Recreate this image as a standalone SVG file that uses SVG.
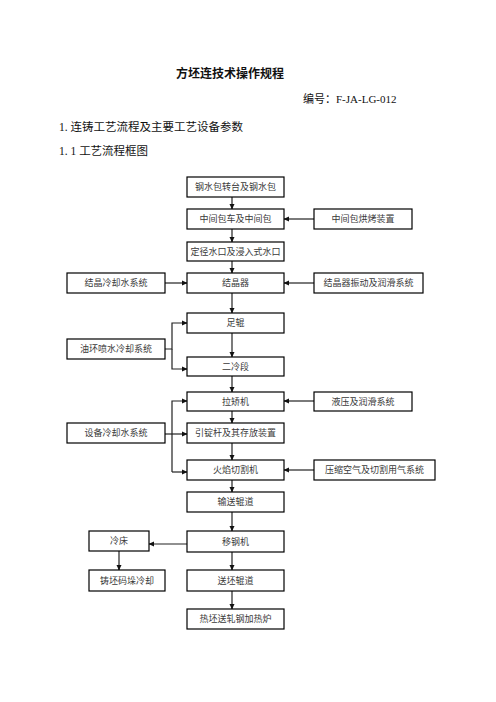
<svg xmlns="http://www.w3.org/2000/svg" width="496" height="702" viewBox="0 0 496 702">
<style>
.b{fill:#fff;stroke:#000;stroke-width:1.2}
.t{font-family:"Liberation Serif","Noto Sans CJK SC",serif;font-size:9px;fill:#3a3a3a;text-anchor:middle;dominant-baseline:central}
.h{font-family:"Liberation Serif","Noto Sans CJK SC",serif;fill:#111}
.c{fill:none;stroke:#222;stroke-width:1.2}
</style>
<defs>
<marker id="a" markerWidth="6" markerHeight="6" refX="5" refY="3" orient="auto" markerUnits="userSpaceOnUse">
<path d="M0,0.5 L5.5,3 L0,5.5 Z" fill="#111"/>
</marker>
</defs>
<rect width="496" height="702" fill="#fff"/>
<text class="h" x="230" y="78" font-size="12" font-weight="bold" text-anchor="middle">方坯连技术操作规程</text>
<text class="h" x="303" y="103" font-size="11">编号：F-JA-LG-012</text>
<text class="h" x="59" y="131" font-size="11.5" fill="#333">1. 连铸工艺流程及主要工艺设备参数</text>
<text class="h" x="59" y="155" font-size="11.5" fill="#333">1. 1 工艺流程框图</text>

<g id="connectors">
<path class="c" d="M232,197V209" marker-end="url(#a)"/>
<path class="c" d="M232,229V242" marker-end="url(#a)"/>
<path class="c" d="M232,261V273" marker-end="url(#a)"/>
<path class="c" d="M232,293V313" marker-end="url(#a)"/>
<path class="c" d="M232,333V357" marker-end="url(#a)"/>
<path class="c" d="M232,376V392" marker-end="url(#a)"/>
<path class="c" d="M232,411V423" marker-end="url(#a)"/>
<path class="c" d="M232,443V460" marker-end="url(#a)"/>
<path class="c" d="M232,480V492" marker-end="url(#a)"/>
<path class="c" d="M232,512V531" marker-end="url(#a)"/>
<path class="c" d="M232,552V570" marker-end="url(#a)"/>
<path class="c" d="M232,591V609" marker-end="url(#a)"/>
<path class="c" d="M314,219H284" stroke="#555" stroke-width="1.6" marker-end="url(#a)"/>
<path class="c" d="M165,283H187" marker-end="url(#a)"/>
<path class="c" d="M314,283H284" marker-end="url(#a)"/>
<path class="c" d="M165,349H172V323H187" marker-end="url(#a)"/>
<path class="c" d="M172,349V369H187" marker-end="url(#a)"/>
<path class="c" d="M314,401H284" marker-end="url(#a)"/>
<path class="c" d="M172,472V401H187" marker-end="url(#a)"/>
<path class="c" d="M165,434H187" marker-end="url(#a)"/>
<path class="c" d="M172,472H187" marker-end="url(#a)"/>
<path class="c" d="M314,470H284" stroke="#555" stroke-width="1.6" marker-end="url(#a)"/>
<path class="c" d="M187,544H149" marker-end="url(#a)"/>
<path class="c" d="M119,551V570" marker-end="url(#a)"/>
</g>

<g id="n1"><rect class="b" x="187" y="177" width="97" height="20"/><text class="t" x="235.5" y="187">钢水包转台及钢水包</text></g>
<g id="n2"><rect class="b" x="187" y="209" width="97" height="20"/><text class="t" x="235.5" y="219">中间包车及中间包</text></g>
<g id="n3"><rect class="b" x="314" y="209" width="98" height="20"/><text class="t" x="363" y="219">中间包烘烤装置</text></g>
<g id="n4"><rect class="b" x="187" y="242" width="97" height="19"/><text class="t" x="235.5" y="251.5">定径水口及浸入式水口</text></g>
<g id="n5"><rect class="b" x="187" y="273" width="97" height="20"/><text class="t" x="235.5" y="283">结晶器</text></g>
<g id="n6"><rect class="b" x="67" y="273" width="98" height="20"/><text class="t" x="116" y="283">结晶冷却水系统</text></g>
<g id="n7"><rect class="b" x="314" y="273" width="109" height="20"/><text class="t" x="368.5" y="283">结晶器振动及润滑系统</text></g>
<g id="n8"><rect class="b" x="187" y="313" width="97" height="20"/><text class="t" x="235.5" y="323">足辊</text></g>
<g id="n9"><rect class="b" x="67" y="339" width="98" height="20"/><text class="t" x="116" y="349">油环喷水冷却系统</text></g>
<g id="n10"><rect class="b" x="187" y="357" width="97" height="19"/><text class="t" x="235.5" y="366.5">二冷段</text></g>
<g id="n11"><rect class="b" x="187" y="392" width="97" height="19"/><text class="t" x="235.5" y="401.5">拉矫机</text></g>
<g id="n12"><rect class="b" x="314" y="392" width="98" height="19"/><text class="t" x="363" y="401.5">液压及润滑系统</text></g>
<g id="n13"><rect class="b" x="187" y="423" width="97" height="20"/><text class="t" x="235.5" y="433">引锭杆及其存放装置</text></g>
<g id="n14"><rect class="b" x="67" y="423" width="98" height="20"/><text class="t" x="116" y="433">设备冷却水系统</text></g>
<g id="n15"><rect class="b" x="187" y="460" width="97" height="20"/><text class="t" x="235.5" y="470">火焰切割机</text></g>
<g id="n16"><rect class="b" x="314" y="460" width="121" height="20"/><text class="t" x="374.5" y="470">压缩空气及切割用气系统</text></g>
<g id="n17"><rect class="b" x="187" y="492" width="97" height="20"/><text class="t" x="235.5" y="502">输送辊道</text></g>
<g id="n18"><rect class="b" x="187" y="531" width="97" height="21"/><text class="t" x="235.5" y="541.5">移钢机</text></g>
<g id="n19"><rect class="b" x="89" y="531" width="60" height="20"/><text class="t" x="119" y="541">冷床</text></g>
<g id="n20"><rect class="b" x="89" y="570" width="76" height="21"/><text class="t" x="127" y="580.5">铸坯码垛冷却</text></g>
<g id="n21"><rect class="b" x="187" y="570" width="97" height="21"/><text class="t" x="235.5" y="580.5">送坯辊道</text></g>
<g id="n22"><rect class="b" x="187" y="609" width="97" height="20"/><text class="t" x="235.5" y="619">热坯送轧钢加热炉</text></g>
</svg>
